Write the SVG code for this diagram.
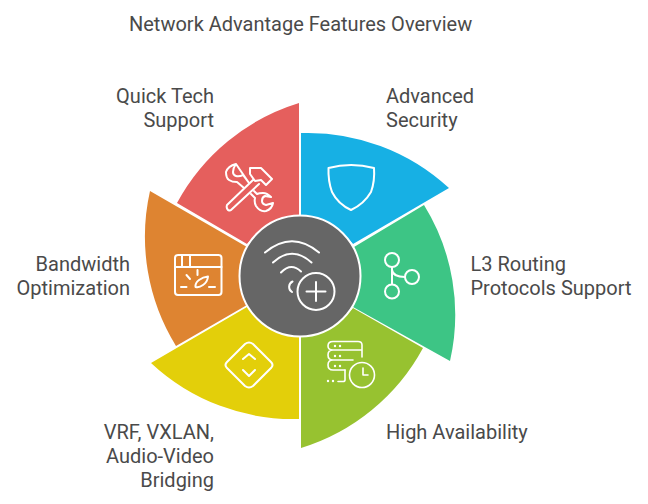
<svg xmlns="http://www.w3.org/2000/svg" width="648" height="504" viewBox="0 0 648 504">
<style>
text{font-family:Roboto,"Liberation Sans",sans-serif;font-size:20px;fill:#4a4a4a}
.i{fill:none;stroke:#fff;stroke-width:2;stroke-linecap:round;stroke-linejoin:round}
.t{stroke-width:1.6}
</style>
<rect width="648" height="504" fill="#fff"/>
<text x="129" y="31">Network Advantage Features Overview</text>
<g id="connectors"></g>
<g id="quick-tech-support">
<path d="M299 103A208 208 0 0 0 177 203L247 244Q268 219 299 215Z" fill="#e55f5d"/>
<g class="i"><path d="M250 168L261 168L272 179L266 185L261 180L255 181L250 174ZM253 180L227 205Q226 208 228 210Q230 211 231 210L259 184"/>
<path d="M236 164Q228 166 226 172Q226 178 229 180Q232 182 237 182L244 188M251 194L255 198Q254 202 256 206Q260 212 266 211Q272 209 273 203L266 205Q262 204 262 201Q262 197 265 196L271 197Q267 193 263 193Q259 193 257 194L254 191M249 183L243 175Q239 177 236 176Q233 175 233 172Q233 168 236 164Z"/></g>
<text x="214" y="103" text-anchor="end">Quick Tech</text><text x="214" y="127" text-anchor="end">Support</text>
</g>
<g id="advanced-security">
<path d="M301 133A208 208 0 0 1 449 188L353 244Q332 219 301 215Z" fill="#17b0e4"/>
<path class="i" d="M328.500 168Q351 162 374 168Q375 181 371 192Q364 204 351 210Q338 204 332 192Q328 181 328.500 168Z"/>
<text x="386" y="103">Advanced</text><text x="386" y="127">Security</text>
</g>
<g id="l3-routing">
<path d="M424 205A208 208 0 0 1 450 361L353 307Q367 277 354 247Z" fill="#3dc585"/>
<g class="i"><circle cx="392" cy="260" r="7"/><circle cx="392" cy="291.500" r="7"/><circle cx="412" cy="277" r="7"/><path d="M392 267V284M392 270Q393 277 405 277"/></g>
<text x="470.500" y="271">L3 Routing</text><text x="470.500" y="295">Protocols Support</text>
</g>
<g id="high-availability">
<path d="M423 348A208 208 0 0 1 301 448V337Q333 333 353 308Z" fill="#97c230"/>
<g class="i t"><path d="M339 341.500H358Q362 341.500 362 345V357M362 350H333Q328 350 328 346Q328 341.500 333 341.500H339M333 350Q328 350 328 355Q328 360 333 360H353M333 360Q328 360 328 365Q328 370 333 370H345"/>
<path d="M345 370V380Q345 381.500 343 381.500H338"/><circle cx="362" cy="375" r="12.500"/><path d="M363 368V375H368"/></g>
<g fill="#fff"><circle cx="335" cy="346" r="1.200"/><circle cx="340" cy="346" r="1.200"/><circle cx="335" cy="356" r="1.200"/><circle cx="340" cy="356" r="1.200"/><circle cx="335" cy="366" r="1.200"/><circle cx="340" cy="366" r="1.200"/><circle cx="328" cy="381" r="1.200"/><circle cx="333" cy="381" r="1.200"/></g>
<text x="386" y="439">High Availability</text>
</g>
<g id="vrf-vxlan">
<path d="M299 419A208 208 0 0 1 151 363L247 307Q268 333 299 337Z" fill="#e3cf0a"/>
<g class="i"><path d="M245 344Q249 341 253 344L271 362Q274 365 271 368L253 386Q249 389 245 386L227 368Q224 365 227 362Z"/><path d="M243 359L249 354L255 359M243 370L249 376L255 370"/></g>
<text x="214" y="439" text-anchor="end">VRF, VXLAN,</text><text x="214" y="463" text-anchor="end">Audio-Video</text><text x="214" y="487" text-anchor="end">Bridging</text>
</g>
<g id="bandwidth">
<path d="M150 191A208 208 0 0 0 176 346L247 305Q233 276 247 247Z" fill="#de8431"/>
<g class="i"><rect x="175" y="255" width="46.500" height="40" rx="3"/><path d="M175 267H221.500M182 255V267M190 255V267"/>
<path d="M181 287H186.500M209 287H215M186.500 275L190 279M197.500 270V275M195.500 287Q195 283 199 280Q203 277 208 276.500Q207.500 282 203 285Q199 288 195.500 287Z"/></g>
<text x="130" y="271" text-anchor="end">Bandwidth</text><text x="130" y="295" text-anchor="end">Optimization</text>
</g>
<g id="center">
<circle cx="300" cy="276" r="60.500" fill="#666" stroke="#fff" stroke-width="2"/>
<g class="i"><path d="M265 252.500Q292 230 319 252.500M273 262.500Q292 245 311.500 262.500M281 272.500Q291 262 301 271.500M292.500 281.500A6 6 0 0 0 292 292"/>
<circle cx="316" cy="291.500" r="18.500"/><path d="M316 282V301M306.500 291.500H325.500"/></g>
</g>
</svg>
